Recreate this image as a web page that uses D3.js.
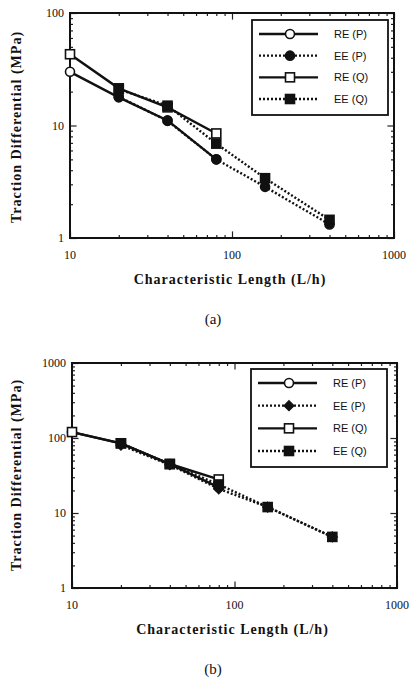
<!DOCTYPE html>
<html lang="en">
<head>
    <meta charset="UTF-8">
    <title>Traction differential vs characteristic length</title>
    <script src="https://d3js.org/d3.v7.min.js"></script>
    <style>
        body {
            margin: 0;
            padding: 0;
            background: #fff;
        }
        svg text {
            fill: #111;
        }
        svg text.serif {
            font-family: "Liberation Serif", "DejaVu Serif", serif;
        }
        svg text.sans {
            font-family: "Liberation Sans", "DejaVu Sans", sans-serif;
        }
    </style>
</head>
<body>
<svg id="chart" width="412" height="685" xmlns="http://www.w3.org/2000/svg"></svg>
<script>
    // series names, same for both panels
    var seriesNames = ['RE (P)', 'EE (P)', 'RE (Q)', 'EE (Q)'];
    var reLengths = [10, 20, 40, 80];
    var eeLengths = [20, 40, 80, 160, 400];

    // panel (a)
    var aREP = [30, 17.8, 11.1, 5.0];
    var aEEP = [18, 11, 5.0, 2.85, 1.32];
    var aREQ = [43, 21.4, 14.5, 8.5];
    var aEEQ = [21, 15, 6.9, 3.4, 1.45];

    // panel (b)
    var bREP = [120, 85, 45, 22];
    var bEEP = [80, 44, 21, 12, 4.8];
    var bREQ = [120, 85, 45, 28];
    var bEEQ = [85, 45, 24, 12, 4.8];

    var xTickLabels = ['10', '100', '1000'];
    var aYTickLabels = ['1', '10', '100'];
    var bYTickLabels = ['1', '10', '100', '1000'];

    var svg = d3.select('#chart');

    var panels = [
        {
            label: '(a)', left: 70, right: 394, top: 13, bottom: 238,
            yDomain: [1, 100], yTicks: aYTickLabels,
            legend: {x: 252, y: 20, w: 136, h: 95},
            series: [
                {x: reLengths, y: aREP, dash: null, shape: 'circle', fill: '#fff'},
                {x: eeLengths, y: aEEP, dash: '2,2', shape: 'circle', fill: '#111'},
                {x: reLengths, y: aREQ, dash: null, shape: 'square', fill: '#fff'},
                {x: eeLengths, y: aEEQ, dash: '2,2', shape: 'square', fill: '#111'}
            ],
            labelY: 324, xTitleY: 284, yTitleY: 127
        },
        {
            label: '(b)', left: 72, right: 397, top: 363, bottom: 588,
            yDomain: [1, 1000], yTicks: bYTickLabels,
            legend: {x: 251, y: 369, w: 136, h: 98},
            series: [
                {x: reLengths, y: bREP, dash: null, shape: 'circle', fill: '#fff'},
                {x: eeLengths, y: bEEP, dash: '2,2', shape: 'diamond', fill: '#111'},
                {x: reLengths, y: bREQ, dash: null, shape: 'square', fill: '#fff'},
                {x: eeLengths, y: bEEQ, dash: '2,2', shape: 'square', fill: '#111'}
            ],
            labelY: 674, xTitleY: 634, yTitleY: 475
        }
    ];

    panels.forEach(drawPanel);

    function drawMarker(g, shape, fill, cx, cy) {
        if (shape === 'circle') {
            g.append('circle').attr('cx', cx).attr('cy', cy).attr('r', 4.5)
                .attr('fill', fill).attr('stroke', '#111').attr('stroke-width', 1.6);
        } else if (shape === 'square') {
            g.append('rect').attr('x', cx - 4.5).attr('y', cy - 4.5).attr('width', 9).attr('height', 9)
                .attr('fill', fill).attr('stroke', '#111').attr('stroke-width', 1.6);
        } else {
            g.append('path').attr('d', 'M' + cx + ',' + (cy - 5) + 'L' + (cx + 5) + ',' + cy + 'L' + cx + ',' + (cy + 5) + 'L' + (cx - 5) + ',' + cy + 'Z')
                .attr('fill', fill).attr('stroke', '#111').attr('stroke-width', 1.2);
        }
    }

    function drawPanel(p) {
        var x = d3.scaleLog().domain([10, 1000]).range([p.left, p.right]);
        var y = d3.scaleLog().domain(p.yDomain).range([p.bottom, p.top]);
        var g = svg.append('g');

        // inward ticks on all four sides, long ones on decades
        var isMajor = function (d) {
            return Math.abs(Math.log10(d) - Math.round(Math.log10(d))) < 1e-6;
        };
        var sides = [
            {axis: d3.axisBottom(x), tr: 'translate(0,' + p.bottom + ')'},
            {axis: d3.axisTop(x), tr: 'translate(0,' + p.top + ')'},
            {axis: d3.axisLeft(y), tr: 'translate(' + p.left + ',0)'},
            {axis: d3.axisRight(y), tr: 'translate(' + p.right + ',0)'}
        ];
        sides.forEach(function (s) {
            var ag = g.append('g').attr('transform', s.tr)
                .call(s.axis.tickSize(-3).tickFormat(''));
            ag.select('.domain').remove();
            ag.selectAll('.tick line')
                .attr('stroke', '#222')
                .attr('stroke-width', 1.2)
                .each(function (d) {
                    if (isMajor(d)) {
                        var l = d3.select(this);
                        var key = l.attr('x2') !== null && +l.attr('x2') !== 0 ? 'x2' : 'y2';
                        l.attr(key, +l.attr(key) * 2.2);
                    }
                });
        });

        g.append('rect')
            .attr('x', p.left).attr('y', p.top)
            .attr('width', p.right - p.left).attr('height', p.bottom - p.top)
            .attr('fill', 'none').attr('stroke', '#111').attr('stroke-width', 2);

        // tick labels
        g.selectAll('.xl').data(xTickLabels).enter().append('text')
            .attr('class', 'serif')
            .attr('x', function (d) { return x(+d); })
            .attr('y', p.bottom + 21)
            .attr('text-anchor', 'middle')
            .attr('font-size', 12)
            .text(function (d) { return d; });
        g.selectAll('.yl').data(p.yTicks).enter().append('text')
            .attr('class', 'serif')
            .attr('x', p.left - 6)
            .attr('y', function (d) { return y(+d) + 4; })
            .attr('text-anchor', 'end')
            .attr('font-size', 12)
            .text(function (d) { return d; });

        // axis titles
        g.append('text')
            .attr('class', 'serif')
            .attr('x', (p.left + p.right) / 2 - 2)
            .attr('y', p.xTitleY)
            .attr('text-anchor', 'middle')
            .attr('font-weight', 'bold')
            .attr('font-size', 14)
            .attr('letter-spacing', 1)
            .text('Characteristic Length (L/h)');
        g.append('text')
            .attr('class', 'serif')
            .attr('transform', 'translate(21,' + p.yTitleY + ') rotate(-90)')
            .attr('text-anchor', 'middle')
            .attr('font-weight', 'bold')
            .attr('font-size', 14)
            .attr('letter-spacing', 1)
            .text('Traction Differential (MPa)');

        // series lines then markers
        var line = d3.line()
            .x(function (d) { return x(d[0]); })
            .y(function (d) { return y(d[1]); });
        p.series.forEach(function (s) {
            g.append('path')
                .attr('d', line(d3.zip(s.x, s.y)))
                .attr('fill', 'none')
                .attr('stroke', '#111')
                .attr('stroke-width', 2.4)
                .attr('stroke-dasharray', s.dash);
        });
        p.series.forEach(function (s) {
            d3.zip(s.x, s.y).forEach(function (d) {
                drawMarker(g, s.shape, s.fill, x(d[0]), y(d[1]));
            });
        });

        // legend
        var L = p.legend;
        g.append('rect')
            .attr('x', L.x).attr('y', L.y).attr('width', L.w).attr('height', L.h)
            .attr('fill', '#fff').attr('stroke', '#111').attr('stroke-width', 1.8);
        var rowY = d3.scalePoint().domain(seriesNames).range([L.y + 14, L.y + L.h - 16]);
        p.series.forEach(function (s, i) {
            var ry = rowY(seriesNames[i]);
            g.append('line')
                .attr('x1', L.x + 7).attr('x2', L.x + 66)
                .attr('y1', ry).attr('y2', ry)
                .attr('stroke', '#111').attr('stroke-width', 2.4)
                .attr('stroke-dasharray', s.dash);
            drawMarker(g, s.shape, s.fill, L.x + 38, ry);
            g.append('text')
                .attr('class', 'sans')
                .attr('x', L.x + 82)
                .attr('y', ry + 4)
                .attr('font-size', 11)
                .text(seriesNames[i]);
        });

        // panel label
        g.append('text')
            .attr('class', 'serif')
            .attr('x', 213)
            .attr('y', p.labelY)
            .attr('text-anchor', 'middle')
            .attr('font-size', 15)
            .text(p.label);
    }
</script>
</body>
</html>
